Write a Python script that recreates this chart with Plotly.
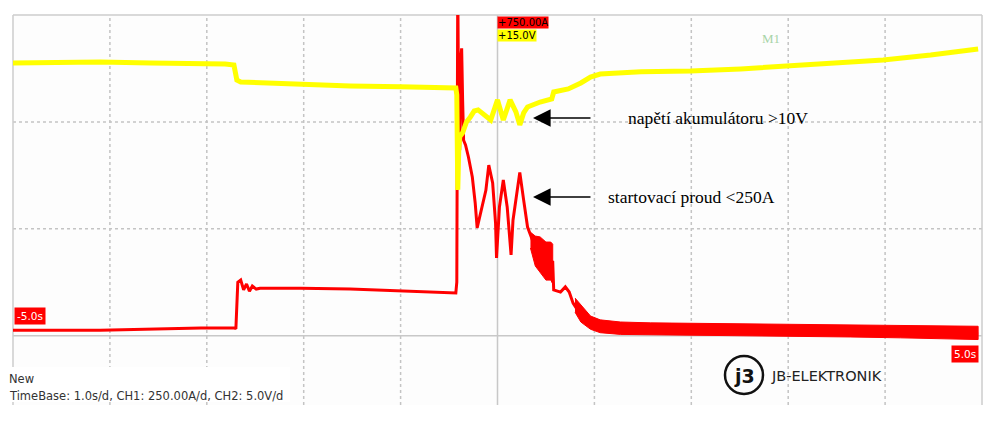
import plotly.graph_objects as go

# ---------------- data ----------------
# CH2: battery voltage [V] vs time [s]
volt_t = [-5.0, -4.10, -3.58, -3.06, -2.81, -2.72, -2.69, -2.65, -2.34, -2.03, -1.52, -1.00,
          -0.43, -0.42, -0.41, -0.40, -0.39, -0.36, -0.32, -0.28, -0.24, -0.20, -0.13, -0.07,
          0.00, 0.06, 0.13, 0.19, 0.23, 0.27, 0.31, 0.44, 0.56, 0.58, 0.73, 0.86, 0.96, 1.06,
          1.48, 1.99, 2.51, 2.99, 3.54, 3.98, 4.47, 4.96]
volt_v = [12.76, 12.80, 12.76, 12.76, 12.71, 12.66, 11.96, 11.87, 11.82, 11.73, 11.68, 11.64,
          11.59, 11.26, 6.82, 8.69, 9.30, 9.49, 10.00, 10.23, 10.51, 10.56, 10.33, 10.09,
          11.03, 10.09, 11.03, 10.47, 9.86, 10.42, 10.70, 10.93, 11.07, 11.40, 11.54, 11.82, 12.10, 12.24,
          12.34, 12.38, 12.48, 12.62, 12.76, 12.90, 13.13, 13.41]

# CH1: starter current [A] vs time [s]
curr_t = [-5.0, -4.10, -3.06, -2.71, -2.70, -2.68, -2.65, -2.62, -2.59, -2.56, -2.53, -2.49,
          -2.45, -2.03, -1.52, -1.00, -0.43, -0.42, -0.41, -0.40, -0.39, -0.38, -0.37, -0.36,
          -0.35, -0.33, -0.30, -0.26, -0.23, -0.21, -0.18, -0.15, -0.12, -0.09, -0.05, -0.02,
          -0.01, 0.02, 0.06, 0.10, 0.14, 0.16, 0.20, 0.23, 0.27, 0.31, 0.36, 0.41, 0.46, 0.52,
          0.57, 0.58, 0.65, 0.70, 0.74, 0.78, 0.83, 0.86, 0.96, 1.06, 1.58, 2.09, 2.61, 3.13,
          3.64, 4.16, 4.67, 4.96]
curr_a = [13, 13, 18, 18, 16, 125, 130, 107, 121, 104, 116, 109,
          111, 111, 109, 104, 100, 125, 831, 457, 434, 644, 672, 551,
          457, 446, 418, 371, 310, 252, 282, 310, 340, 399, 357, 263,
          182, 301, 364, 301, 189, 270, 333, 382, 317, 254, 224, 196, 182, 177,
          172, 107, 102, 114, 102, 76, 60, 48, 32, 20, 16, 16, 13, 13,
          11, 9, 6, 4]

# noise envelopes of CH1 (upper / lower edge of the noisy band)
mid_t = [0.34, 0.39, 0.44, 0.50, 0.55, 0.57]
mid_hi = [242, 233, 231, 219, 219, 214]
mid_lo = [205, 163, 147, 130, 130, 121]

tail_t = [0.80, 0.86, 0.96, 1.06, 1.27, 1.58, 2.09, 2.61, 3.13, 3.64, 4.16, 4.67, 4.96]
tail_hi = [88, 72, 46, 37, 32, 30, 29, 28, 26, 26, 24, 23, 22]
tail_lo = [55, 32, 15, 7, 3, 2, 1, 0, -2, -3, -5, -7, -9]

grid_t = [-4, -3, -2, -1, 1, 2, 3, 4]
grid_a = [500, 250]

# ---------------- layout helpers ----------------
# the page body has an 8 px margin, so the figure sits at (8, 8) in the window
OFF = 8
W, H = 1000 - OFF, 439 - OFF
L, R, T, B = 13 - OFF, 982 - OFF, 15 - OFF, 405 - OFF


def px(x):
    return (x - OFF - L) / (R - L)


def py(y):
    return (B - (y - OFF)) / (B - T)


fig = go.Figure()

fig.add_trace(go.Scatter(x=volt_t, y=volt_v, yaxis="y2", mode="lines",
                         line=dict(color="#FFFF00", width=5), hoverinfo="skip"))
fig.add_trace(go.Scatter(x=mid_t + mid_t[::-1], y=mid_hi + mid_lo[::-1], mode="lines",
                         fill="toself", fillcolor="#FF0000",
                         line=dict(color="#FF0000", width=1), hoverinfo="skip"))
fig.add_trace(go.Scatter(x=tail_t + tail_t[::-1], y=tail_hi + tail_lo[::-1], mode="lines",
                         fill="toself", fillcolor="#FF0000",
                         line=dict(color="#FF0000", width=1), hoverinfo="skip"))
fig.add_trace(go.Scatter(x=curr_t, y=curr_a, mode="lines",
                         line=dict(color="#FF0000", width=3), hoverinfo="skip"))

shapes = []
for g in grid_t:
    shapes.append(dict(type="line", xref="x", yref="paper", x0=g, x1=g, y0=0, y1=1,
                       line=dict(color="#C4C4C4", width=1.5, dash="dot"), layer="below"))
for g in grid_a:
    shapes.append(dict(type="line", xref="paper", yref="y", x0=0, x1=1, y0=g, y1=g,
                       line=dict(color="#C4C4C4", width=1.5, dash="dot"), layer="below"))
# centre line and zero reference line
shapes.append(dict(type="line", xref="x", yref="paper", x0=0, x1=0, y0=0, y1=1,
                   line=dict(color="#C8C8C8", width=1.5), layer="below"))
shapes.append(dict(type="line", xref="paper", yref="y", x0=0, x1=1, y0=0, y1=0,
                   line=dict(color="#C8C8C8", width=1.5), layer="below"))
# screen border (left, top, right)
for (x0, y0, x1, y1) in [(0, 0, 0, 1), (0, 1, 1, 1), (1, 0, 1, 1)]:
    shapes.append(dict(type="line", xref="paper", yref="paper", x0=x0, x1=x1, y0=y0, y1=y1,
                       line=dict(color="#CCCCCC", width=1.5), layer="below"))
# white panel behind info text
shapes.append(dict(type="rect", xref="paper", yref="paper", x0=px(8), x1=px(290),
                   y0=py(402), y1=py(367), fillcolor="white", line=dict(width=0), layer="below"))
# logo circle
shapes.append(dict(type="circle", xref="paper", yref="paper", x0=px(725), x1=px(763),
                   y0=py(394), y1=py(356), line=dict(color="#111111", width=2.5)))

sans = "DejaVu Sans"
serif = "Liberation Serif"
ann = []


def box(text, x, y, bg, fc, size=10, pad=1):
    ann.append(dict(text=text, xref="paper", yref="paper", x=px(x), y=py(y),
                    xanchor="left", yanchor="top", showarrow=False, bgcolor=bg,
                    borderpad=pad, font=dict(family=sans, size=size, color=fc)))


box("+750.00A", 497, 16, "#FF0000", "#000000", 10, 0)
box("+15.0V", 497, 29, "#FFFF00", "#000000", 10, 0)
box("-5.0s", 14, 307, "#FF0000", "#FFFFFF", 10.5, 2)
box("5.0s", 951, 345, "#FF0000", "#FFFFFF", 10.5, 2)

ann.append(dict(text="M1", xref="paper", yref="paper", x=px(760), y=py(38), xanchor="left",
                yanchor="middle", showarrow=False,
                font=dict(family=serif, size=13, color="#A8D4A8")))
ann.append(dict(text="New", xref="paper", yref="paper", x=px(7), y=py(379), xanchor="left",
                yanchor="middle", showarrow=False, font=dict(family=sans, size=11.5, color="#333333")))
ann.append(dict(text="TimeBase: 1.0s/d, CH1: 250.00A/d, CH2: 5.0V/d", xref="paper", yref="paper",
                x=px(7), y=py(396), xanchor="left", yanchor="middle", showarrow=False,
                font=dict(family=sans, size=11.5, color="#333333")))

# arrows + comments
for yy, txt, tx in [(118, "napětí akumulátoru >10V", 626), (197, "startovací proud <250A", 606)]:
    ann.append(dict(text="", xref="paper", yref="paper", x=px(533), y=py(yy),
                    ax=59, ay=0, axref="pixel", ayref="pixel", showarrow=True,
                    arrowhead=2, arrowsize=2.2, arrowwidth=1.6, arrowcolor="#000000"))
    ann.append(dict(text=txt, xref="paper", yref="paper", x=px(tx), y=py(yy), xanchor="left",
                    yanchor="middle", showarrow=False,
                    font=dict(family=serif, size=17.5, color="#000000")))

# logo
ann.append(dict(text="<b>j3</b>", xref="paper", yref="paper", x=px(744), y=py(376),
                xanchor="center", yanchor="middle", showarrow=False,
                font=dict(family=sans, size=19, color="#111111")))
ann.append(dict(text="JB-ELEKTRONIK", xref="paper", yref="paper", x=px(769), y=py(376),
                xanchor="left", yanchor="middle", showarrow=False,
                font=dict(family=sans, size=14.5, color="#222222")))

fig.update_layout(
    width=W, height=H, autosize=False,
    margin=dict(l=L, r=W - R, t=T, b=H - B, pad=0),
    paper_bgcolor="white", plot_bgcolor="#FDFDFD",
    showlegend=False,
    xaxis=dict(range=[-5, 5], visible=False, fixedrange=True),
    yaxis=dict(range=[-162.1, 750], visible=False, fixedrange=True),
    yaxis2=dict(range=[-3.242, 15], overlaying="y", visible=False, fixedrange=True),
    shapes=shapes, annotations=ann,
)

fig.write_html("out.html")
